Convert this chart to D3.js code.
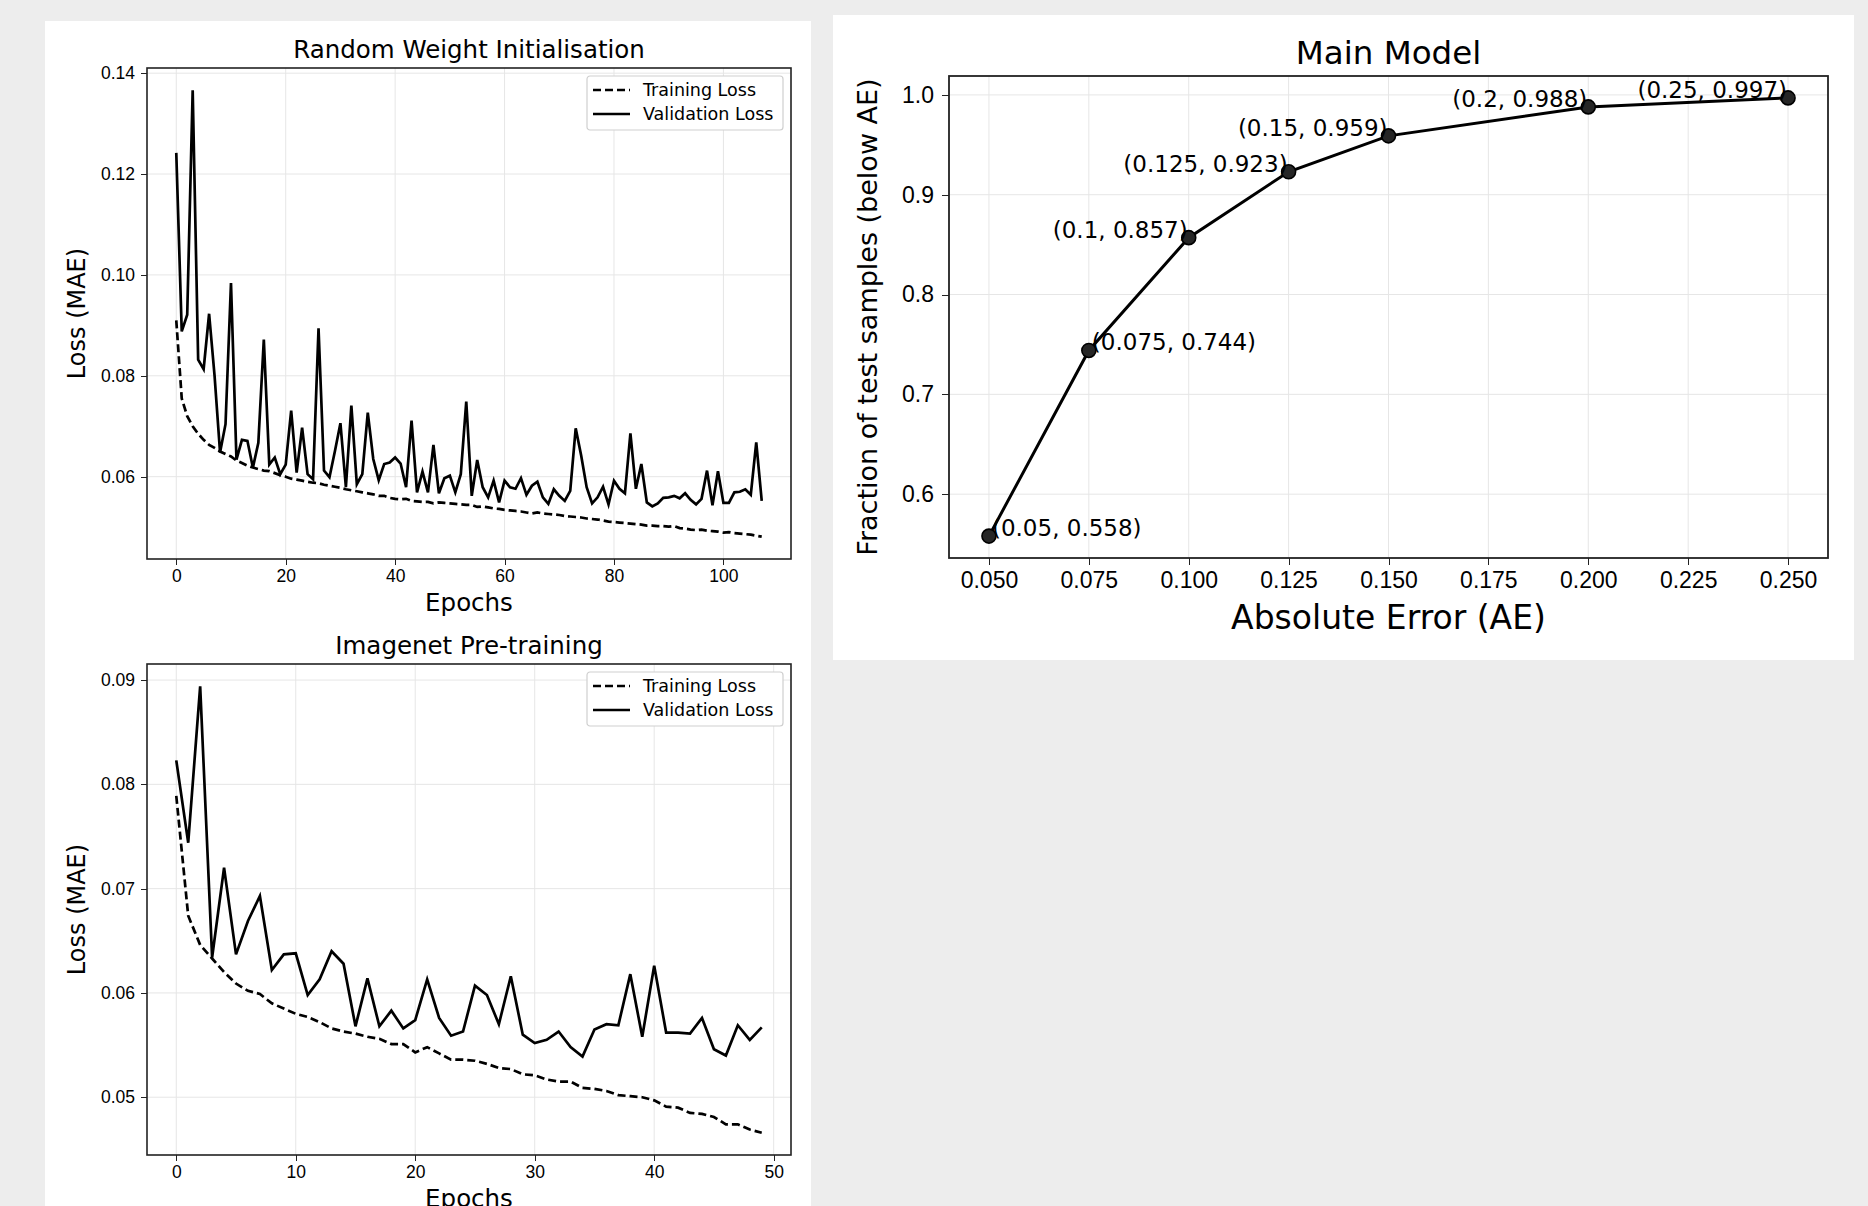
<!DOCTYPE html>
<html lang="en">
<head>
    <meta charset="UTF-8">
    <title>Loss curves and AE fraction</title>
    <script src="https://d3js.org/d3.v7.min.js"></script>
    <style>
        body { margin: 0; background: #ededed; }
        svg { display: block; font-family: "DejaVu Sans", sans-serif; fill: #000; }
        .grid line { stroke: #e6e6e6; stroke-width: 1; }
        .axis path, .axis line { stroke: #222; shape-rendering: crispEdges; }
        .axis text { fill: #000; }
    </style>
</head>
<body>
<svg width="1868" height="1206"></svg>
<script>
    // Random weight initialisation, epochs 0..107
    const rwTrain = [
        0.0910, 0.0755, 0.0720, 0.0700, 0.0685, 0.0673, 0.0663, 0.0657, 0.0650, 0.0645,
        0.0640, 0.0632, 0.0627, 0.0622, 0.0618, 0.0615, 0.0612, 0.0611, 0.0607, 0.0603,
        0.0600, 0.0596, 0.0594, 0.0592, 0.0590, 0.0588, 0.0587, 0.0584, 0.0582, 0.0580,
        0.0578, 0.0575, 0.0573, 0.0571, 0.0569, 0.0567, 0.0565, 0.0562, 0.0562, 0.0558,
        0.0556, 0.0555, 0.0556, 0.0552, 0.0551, 0.0550, 0.0550, 0.0547, 0.0549, 0.0548,
        0.0547, 0.0546, 0.0545, 0.0544, 0.0544, 0.0540, 0.0541, 0.0539, 0.0537, 0.0536,
        0.0534, 0.0533, 0.0532, 0.0531, 0.0529, 0.0527, 0.0529, 0.0527, 0.0526, 0.0525,
        0.0524, 0.0522, 0.0521, 0.0520, 0.0519, 0.0517, 0.0516, 0.0515, 0.0513, 0.0511,
        0.0510, 0.0509, 0.0508, 0.0507, 0.0506, 0.0505, 0.0503, 0.0503, 0.0502, 0.0502,
        0.0501, 0.0502, 0.0498, 0.0497, 0.0495, 0.0494, 0.0495, 0.0493, 0.0492, 0.0491,
        0.0489, 0.0490, 0.0488, 0.0487, 0.0486, 0.0485, 0.0483, 0.0481
    ];
    const rwVal = [
        0.1242, 0.0888, 0.0921, 0.1366, 0.0832, 0.0813, 0.0923, 0.0800, 0.0648, 0.0704,
        0.0984, 0.0634, 0.0673, 0.0671, 0.0618, 0.0667, 0.0872, 0.0624, 0.0638, 0.0605,
        0.0624, 0.0731, 0.0608, 0.0697, 0.0605, 0.0595, 0.0894, 0.0612, 0.0599, 0.0651,
        0.0706, 0.0579, 0.0741, 0.0585, 0.0605, 0.0727, 0.0635, 0.0593, 0.0625, 0.0628,
        0.0638, 0.0626, 0.0579, 0.0711, 0.0569, 0.0610, 0.0569, 0.0663, 0.0567, 0.0597,
        0.0602, 0.0569, 0.0605, 0.0749, 0.0562, 0.0633, 0.0579, 0.0559, 0.0592, 0.0549,
        0.0592, 0.0579, 0.0576, 0.0597, 0.0564, 0.0582, 0.0590, 0.0559, 0.0546, 0.0575,
        0.0562, 0.0552, 0.0572, 0.0696, 0.0642, 0.0579, 0.0547, 0.0559, 0.0580, 0.0545,
        0.0592, 0.0576, 0.0567, 0.0686, 0.0576, 0.0625, 0.0549, 0.0541, 0.0547, 0.0558,
        0.0559, 0.0562, 0.0557, 0.0567, 0.0554, 0.0545, 0.0556, 0.0612, 0.0543, 0.0611,
        0.0548, 0.0548, 0.0569, 0.0570, 0.0575, 0.0564, 0.0668, 0.0552
    ];

    // Imagenet pre-training, epochs 0..49
    const inTrain = [
        0.0789, 0.0674, 0.0646, 0.0633, 0.0620, 0.0609, 0.0602, 0.0599, 0.0590, 0.0585,
        0.0580, 0.0577, 0.0572, 0.0566, 0.0563, 0.0561, 0.0558, 0.0556, 0.0551, 0.0551,
        0.0543, 0.0548, 0.0542, 0.0536, 0.0536, 0.0535, 0.0532, 0.0528, 0.0527, 0.0522,
        0.0521, 0.0517, 0.0515, 0.0515, 0.0509, 0.0508, 0.0506, 0.0502, 0.0501, 0.0500,
        0.0497, 0.0491, 0.0490, 0.0485, 0.0484, 0.0481, 0.0474, 0.0474, 0.0469, 0.0466
    ];
    const inVal = [
        0.0823, 0.0744, 0.0894, 0.0634, 0.0720, 0.0637, 0.0669, 0.0693, 0.0622, 0.0637,
        0.0638, 0.0598, 0.0613, 0.0640, 0.0628, 0.0568, 0.0614, 0.0568, 0.0583, 0.0566,
        0.0574, 0.0613, 0.0576, 0.0559, 0.0563, 0.0607, 0.0598, 0.0570, 0.0616, 0.0560,
        0.0552, 0.0555, 0.0563, 0.0548, 0.0539, 0.0565, 0.0570, 0.0569, 0.0618, 0.0558,
        0.0626, 0.0562, 0.0562, 0.0561, 0.0576, 0.0546, 0.0540, 0.0569, 0.0555, 0.0567
    ];

    // Main model: fraction of test samples below absolute error
    const aeX = [0.05, 0.075, 0.1, 0.125, 0.15, 0.2, 0.25];
    const aeY = [0.558, 0.744, 0.857, 0.923, 0.959, 0.988, 0.997];

    const rwXTicks = [0, 20, 40, 60, 80, 100];
    const rwYTicks = [0.06, 0.08, 0.10, 0.12, 0.14];
    const inXTicks = [0, 10, 20, 30, 40, 50];
    const inYTicks = [0.05, 0.06, 0.07, 0.08, 0.09];
    const aeXTicks = [0.05, 0.075, 0.1, 0.125, 0.15, 0.175, 0.2, 0.225, 0.25];
    const aeYTicks = [0.6, 0.7, 0.8, 0.9, 1.0];

    const svg = d3.select("svg");

    // white figure panels
    svg.append("rect").attr("x", 45).attr("y", 21).attr("width", 766).attr("height", 1185).attr("fill", "#fff");
    svg.append("rect").attr("x", 833).attr("y", 15).attr("width", 1021).attr("height", 645).attr("fill", "#fff");

    // matplotlib style 5% margins
    function padded(lo, hi) {
        const m = (hi - lo) * 0.05;
        return [lo - m, hi + m];
    }

    function lossPanel(box, train, val, xTicks, yTicks, title) {
        const g = svg.append("g");
        const n = train.length;
        const all = train.concat(val);
        const x = d3.scaleLinear().domain(padded(0, n - 1)).range([box.x0, box.x1]);
        const y = d3.scaleLinear().domain(padded(d3.min(all), d3.max(all))).range([box.y1, box.y0]);

        // grid
        const grid = g.append("g").attr("class", "grid");
        grid.selectAll(".gx").data(xTicks).enter().append("line")
            .attr("x1", d => x(d)).attr("x2", d => x(d)).attr("y1", box.y0).attr("y2", box.y1);
        grid.selectAll(".gy").data(yTicks).enter().append("line")
            .attr("x1", box.x0).attr("x2", box.x1).attr("y1", d => y(d)).attr("y2", d => y(d));

        const line = d3.line().x((d, i) => x(i)).y(d => y(d));
        g.append("path").datum(train).attr("d", line)
            .attr("fill", "none").attr("stroke", "#000").attr("stroke-width", 2.7)
            .attr("stroke-dasharray", "8,4");
        g.append("path").datum(val).attr("d", line)
            .attr("fill", "none").attr("stroke", "#000").attr("stroke-width", 2.7)
            .attr("stroke-linejoin", "miter");

        // axes
        g.append("g").attr("class", "axis")
            .attr("transform", "translate(0," + box.y1 + ")")
            .call(d3.axisBottom(x).tickValues(xTicks).tickFormat(d3.format("d")).tickSize(6).tickPadding(5).tickSizeOuter(0))
            .call(a => a.select(".domain").remove())
            .selectAll("text").style("font-size", "17.5px");
        g.append("g").attr("class", "axis")
            .attr("transform", "translate(" + box.x0 + ",0)")
            .call(d3.axisLeft(y).tickValues(yTicks).tickFormat(d3.format(".2f")).tickSize(6).tickPadding(6).tickSizeOuter(0))
            .call(a => a.select(".domain").remove())
            .selectAll("text").style("font-size", "17.5px");

        g.append("rect").attr("x", box.x0).attr("y", box.y0)
            .attr("width", box.x1 - box.x0).attr("height", box.y1 - box.y0)
            .attr("fill", "none").attr("stroke", "#222").attr("stroke-width", 1.6);

        // labels
        g.append("text").attr("x", (box.x0 + box.x1) / 2).attr("y", box.y0 - 10.5)
            .attr("text-anchor", "middle").style("font-size", "24.5px").text(title);
        g.append("text").attr("x", (box.x0 + box.x1) / 2).attr("y", box.y1 + 52)
            .attr("text-anchor", "middle").style("font-size", "24.5px").text("Epochs");
        g.append("text")
            .attr("transform", "translate(85," + (box.y0 + box.y1) / 2 + ") rotate(-90)")
            .attr("text-anchor", "middle").style("font-size", "24px").text("Loss (MAE)");

        // legend
        const lg = g.append("g").attr("transform", "translate(587," + (box.y0 + 8) + ")");
        lg.append("rect").attr("width", 196).attr("height", 54).attr("rx", 3)
            .attr("fill", "#fff").attr("stroke", "#cfcfcf").attr("stroke-width", 1.2);
        const items = [{name: "Training Loss", dash: "8,4"}, {name: "Validation Loss", dash: null}];
        items.forEach((it, i) => {
            const yy = 14 + i * 24;
            lg.append("line").attr("x1", 6).attr("x2", 43).attr("y1", yy).attr("y2", yy)
                .attr("stroke", "#000").attr("stroke-width", 2.7)
                .attr("stroke-dasharray", it.dash);
            lg.append("text").attr("x", 56).attr("y", yy).attr("dy", "0.35em")
                .style("font-size", "17.5px").text(it.name);
        });
    }

    lossPanel({x0: 147, x1: 791, y0: 68, y1: 559}, rwTrain, rwVal, rwXTicks, rwYTicks, "Random Weight Initialisation");
    lossPanel({x0: 147, x1: 791, y0: 664, y1: 1155}, inTrain, inVal, inXTicks, inYTicks, "Imagenet Pre-training");

    // Main model panel
    (function () {
        const box = {x0: 949, x1: 1828, y0: 76, y1: 558};
        const g = svg.append("g");
        const x = d3.scaleLinear().domain(padded(d3.min(aeX), d3.max(aeX))).range([box.x0, box.x1]);
        const y = d3.scaleLinear().domain(padded(d3.min(aeY), d3.max(aeY))).range([box.y1, box.y0]);
        const pts = aeX.map((v, i) => ({x: v, y: aeY[i]}));

        const grid = g.append("g").attr("class", "grid");
        grid.selectAll(".gx").data(aeXTicks).enter().append("line")
            .attr("x1", d => x(d)).attr("x2", d => x(d)).attr("y1", box.y0).attr("y2", box.y1);
        grid.selectAll(".gy").data(aeYTicks).enter().append("line")
            .attr("x1", box.x0).attr("x2", box.x1).attr("y1", d => y(d)).attr("y2", d => y(d));

        g.append("path").datum(pts)
            .attr("d", d3.line().x(d => x(d.x)).y(d => y(d.y)))
            .attr("fill", "none").attr("stroke", "#000").attr("stroke-width", 3);
        g.selectAll(".pt").data(pts).enter().append("circle")
            .attr("cx", d => x(d.x)).attr("cy", d => y(d.y)).attr("r", 7)
            .attr("fill", "#262626").attr("stroke", "#000").attr("stroke-width", 1.6);
        g.selectAll(".lbl").data(pts).enter().append("text")
            .attr("x", d => x(d.x) + (d.x < 0.1 ? 3 : -1))
            .attr("y", d => y(d.y))
            .attr("text-anchor", d => d.x < 0.1 ? "start" : "end")
            .style("font-size", "23px")
            .text(d => "(" + d.x + ", " + d.y + ")");

        g.append("g").attr("class", "axis")
            .attr("transform", "translate(0," + box.y1 + ")")
            .call(d3.axisBottom(x).tickValues(aeXTicks).tickFormat(d3.format(".3f")).tickSize(7).tickPadding(7).tickSizeOuter(0))
            .call(a => a.select(".domain").remove())
            .selectAll("text").style("font-size", "23px");
        g.append("g").attr("class", "axis")
            .attr("transform", "translate(" + box.x0 + ",0)")
            .call(d3.axisLeft(y).tickValues(aeYTicks).tickFormat(d3.format(".1f")).tickSize(7).tickPadding(8).tickSizeOuter(0))
            .call(a => a.select(".domain").remove())
            .selectAll("text").style("font-size", "23px");

        g.append("rect").attr("x", box.x0).attr("y", box.y0)
            .attr("width", box.x1 - box.x0).attr("height", box.y1 - box.y0)
            .attr("fill", "none").attr("stroke", "#222").attr("stroke-width", 1.8);

        g.append("text").attr("x", (box.x0 + box.x1) / 2).attr("y", 64)
            .attr("text-anchor", "middle").style("font-size", "32.5px").text("Main Model");
        g.append("text").attr("x", (box.x0 + box.x1) / 2).attr("y", 629)
            .attr("text-anchor", "middle").style("font-size", "33px").text("Absolute Error (AE)");
        g.append("text")
            .attr("transform", "translate(877," + (box.y0 + box.y1) / 2 + ") rotate(-90)")
            .attr("text-anchor", "middle").style("font-size", "27px")
            .text("Fraction of test samples (below AE)");
    })();
</script>
</body>
</html>
